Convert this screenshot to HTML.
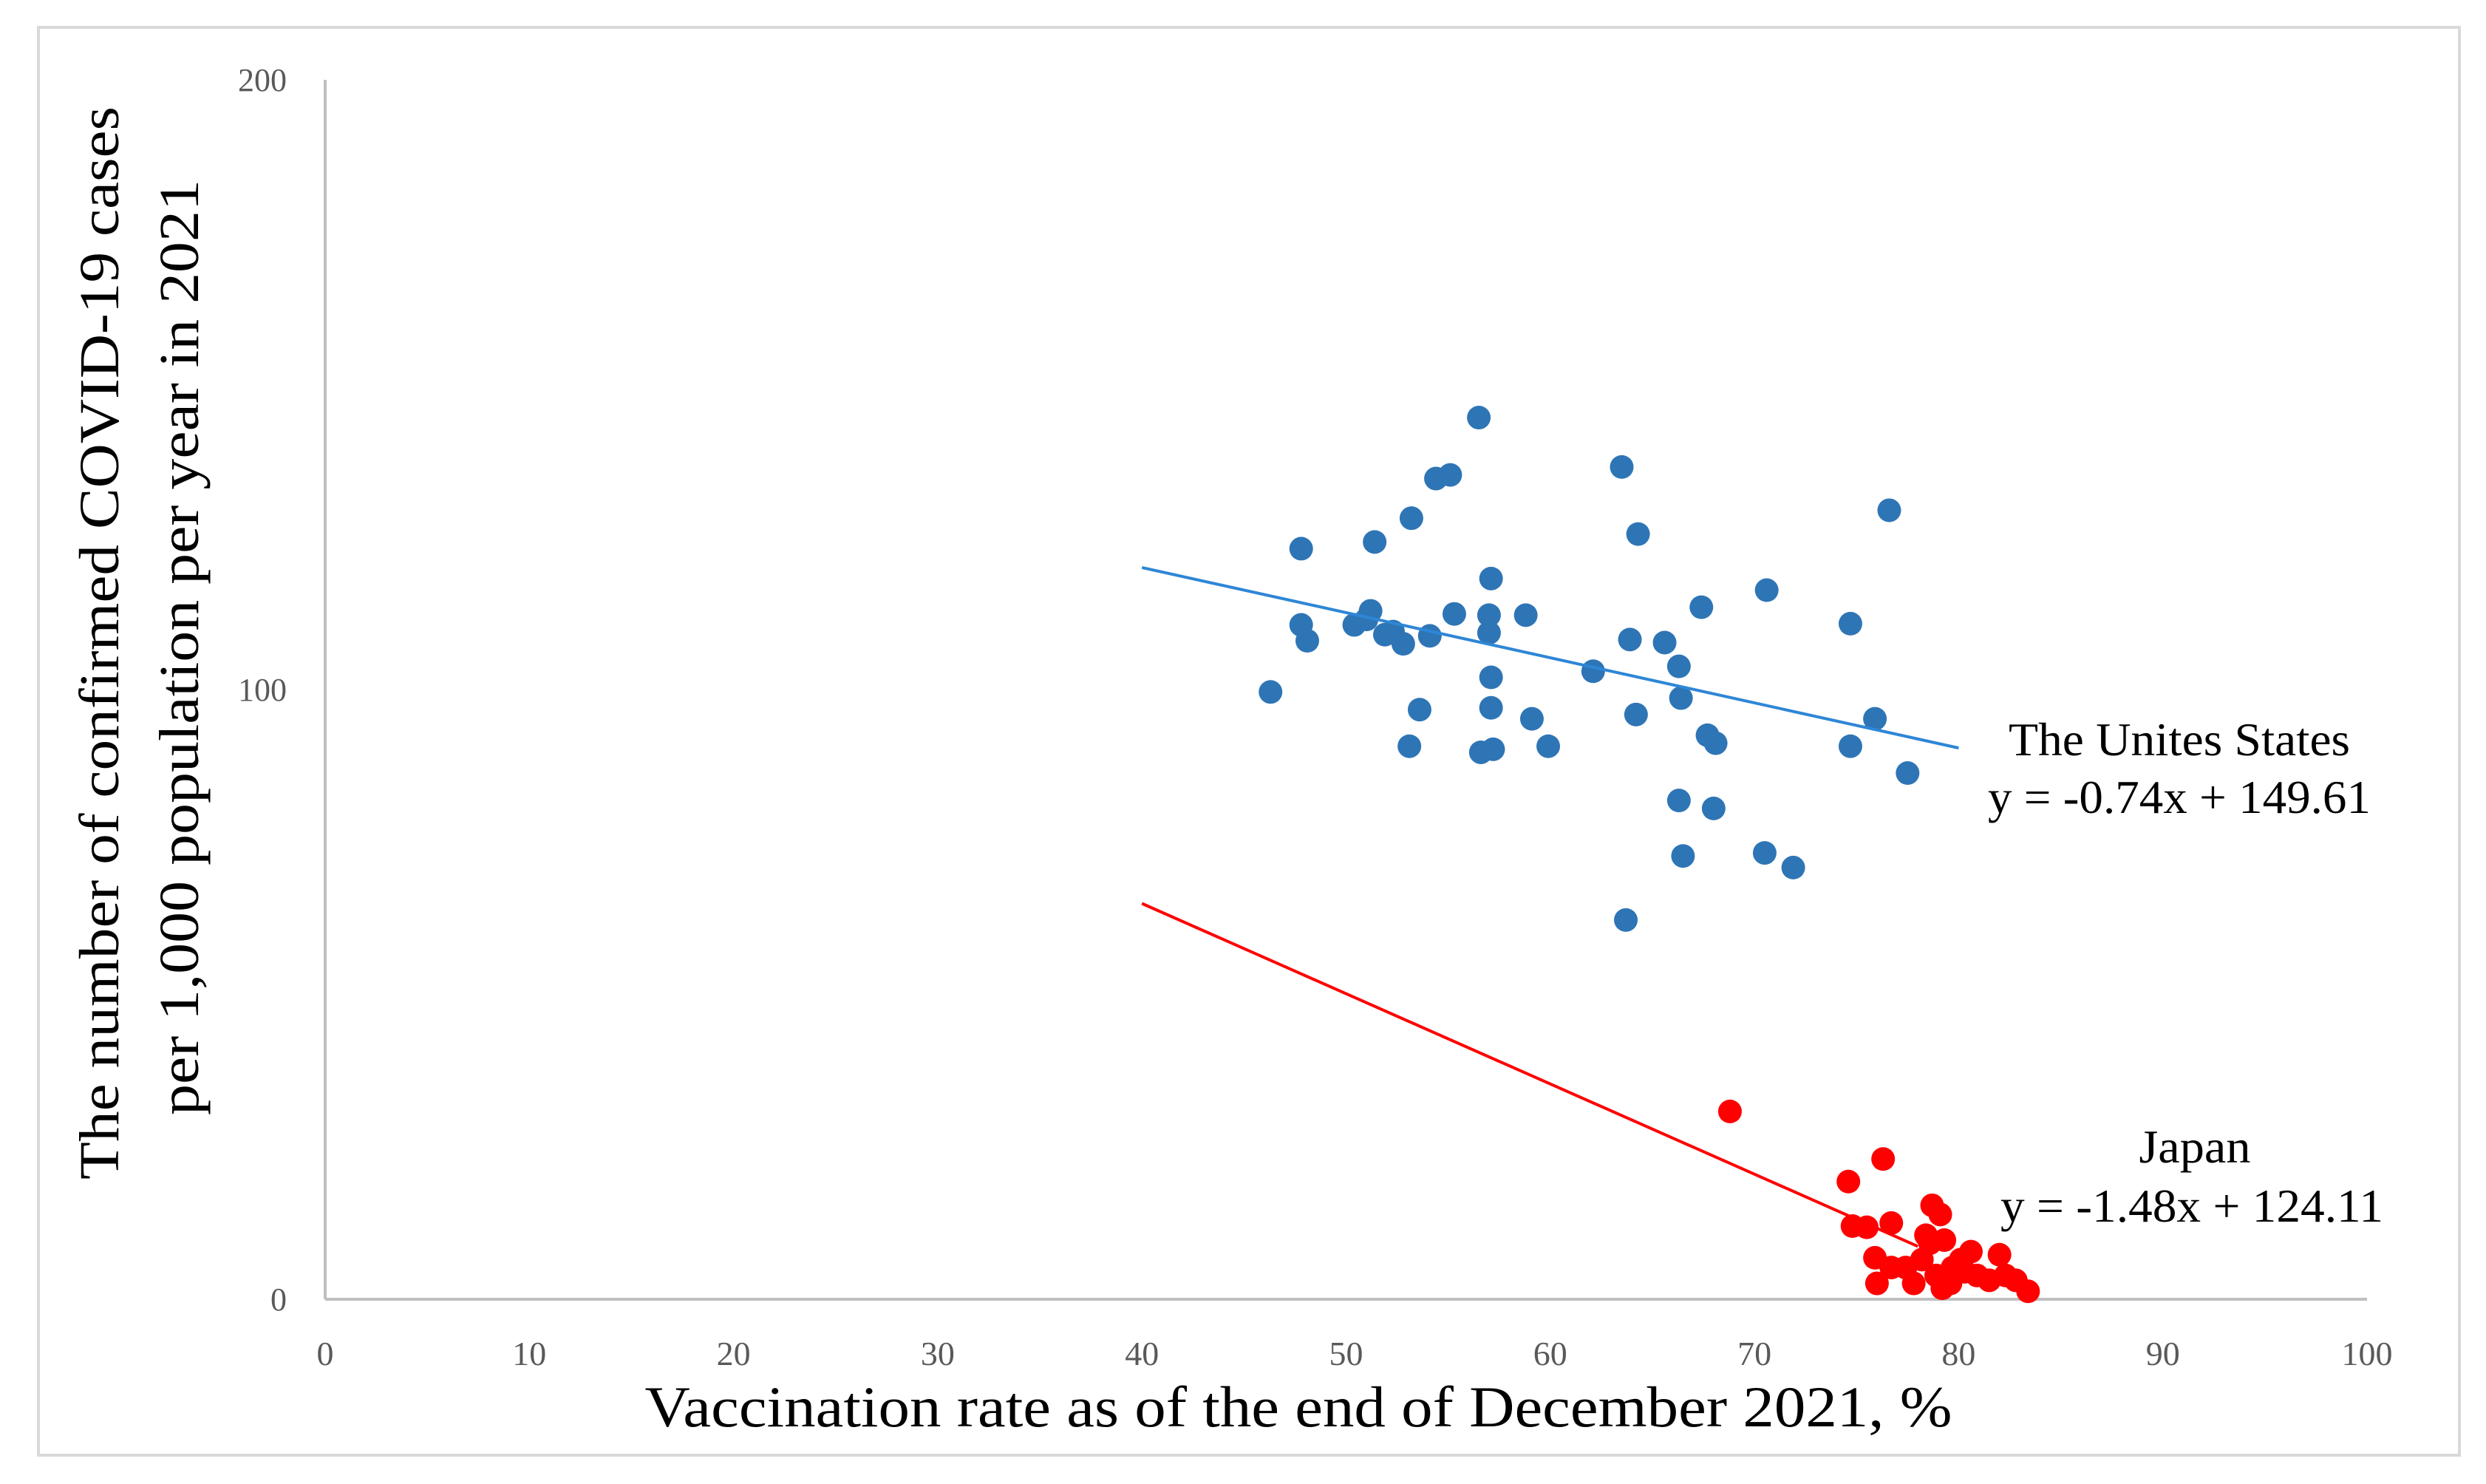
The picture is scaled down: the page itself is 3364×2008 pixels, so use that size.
<!DOCTYPE html>
<html><head><meta charset="utf-8"><style>
html,body{margin:0;padding:0;background:#fff;}
svg{display:block;}
text{font-family:"Liberation Serif",serif;}
</style></head><body>
<svg id="chart" width="3364" height="2008" viewBox="0 0 3364 2008">
<rect x="52" y="37" width="3276" height="1932" fill="#fff" stroke="#d9d9d9" stroke-width="4"/>
<g id="plot"></g>
<text x="134" y="870" font-size="76" text-anchor="middle" textLength="1452" lengthAdjust="spacingAndGlyphs" transform="rotate(-90 134 870)" dy="26">The number of confirmed COVID-19 cases</text>
<text x="242" y="876" font-size="76" text-anchor="middle" textLength="1266" lengthAdjust="spacingAndGlyphs" transform="rotate(-90 242 876)" dy="26">per 1,000 population per year in 2021</text>
<text x="1757" y="1930" font-size="78" text-anchor="middle" textLength="1769" lengthAdjust="spacingAndGlyphs">Vaccination rate as of the end of December 2021, %</text>
<text x="2949" y="1022" font-size="64" text-anchor="middle" textLength="462" lengthAdjust="spacingAndGlyphs">The Unites  States</text>
<text x="2949" y="1100" font-size="64" text-anchor="middle" textLength="518" lengthAdjust="spacingAndGlyphs">y = -0.74x + 149.61</text>
<text x="2970" y="1573" font-size="64" text-anchor="middle" textLength="151" lengthAdjust="spacingAndGlyphs">Japan</text>
<text x="2966" y="1653" font-size="64" text-anchor="middle" textLength="518" lengthAdjust="spacingAndGlyphs">y = -1.48x + 124.11</text>
</svg>
<script>
const xTicks=[0,10,20,30,40,50,60,70,80,90,100];
const yTicks=[0,100,200];
const usX=[47.8,47.8,48.1,46.3,50.4,51.2,51.4,51.9,52.8,53.2,53.1,53.6,54.1,54.4,55.1,55.3,56.5,56.6,57.0,57.0,57.1,57.1,57.1,57.2,58.8,59.1,59.9,62.1,63.5,63.7,63.9,64.2,64.3,65.6,66.3,66.3,66.4,66.5,67.4,67.7,68.1,68.0,70.6,70.5,71.9,74.7,74.7,75.9,76.6,77.5,51.0,52.3];
const usY=[123.1,110.6,108.0,99.6,110.6,112.9,124.2,109.0,107.5,128.1,90.7,96.7,108.8,134.6,135.2,112.4,144.6,89.7,112.2,109.3,97.0,102.0,118.2,90.2,112.2,95.2,90.7,103.0,136.5,62.2,108.2,95.9,125.5,107.7,103.8,81.8,98.6,72.7,113.5,92.5,91.2,80.5,116.3,73.2,70.8,110.8,90.7,95.2,129.4,86.3,111.5,109.5];
const jpX=[68.8,76.3,74.6,74.8,75.5,76.7,78.7,79.1,75.9,76.0,77.4,78.2,78.6,79.3,78.9,79.2,79.7,80.1,80.6,80.9,81.5,82.0,82.3,82.8,83.4,77.8,79.6,76.7,78.4,80.3];
const jpY=[30.8,23.0,19.3,12.0,11.8,12.5,15.4,13.9,6.8,2.6,5.2,6.5,9.2,9.7,3.9,1.8,5.2,6.5,7.8,3.9,3.1,7.3,3.9,3.1,1.3,2.6,2.6,5.2,10.5,4.5];
const usFit=[-0.74,149.61,40,80];
const jpFit=[-1.48,124.11,40,78];
const L=440,R=3203,T=108,B=1758;
const sx=v=>L+(v-0)/(100-0)*(R-L);
const sy=v=>B-(v-0)/(200-0)*(B-T);
const NS='http://www.w3.org/2000/svg';
const g=document.getElementById('plot');
function mk(tag,attrs){const e=document.createElementNS(NS,tag);for(const k in attrs)e.setAttribute(k,attrs[k]);g.appendChild(e);return e;}
let a=mk('line',{x1:L,y1:T,x2:L,y2:B,stroke:'#bfbfbf','stroke-width':4});


a=mk('line',{x1:L,y1:B,x2:R,y2:B,stroke:'#bfbfbf','stroke-width':4});


xTicks.forEach(t=>{const e=mk('text',{x:sx(t),y:1847,'font-size':46,'text-anchor':'middle',fill:'#595959'});e.textContent=t;

});
yTicks.forEach(t=>{const e=mk('text',{x:388,y:sy(t)+15,'font-size':44,'text-anchor':'end',fill:'#595959'});e.textContent=t;

});
function fit(f,col,name){const e=mk('line',{x1:sx(f[2]),y1:sy(f[0]*f[2]+f[1]),x2:sx(f[3]),y2:sy(f[0]*f[3]+f[1]),stroke:col,'stroke-width':4});

}
usX.forEach((x,i)=>{const c=mk('circle',{cx:sx(x),cy:sy(usY[i]),r:16,fill:'#2e75b6'});

});
fit(usFit,'#2e86d6','us-trendline');
fit(jpFit,'#ff0000','japan-trendline');
jpX.forEach((x,i)=>{const c=mk('circle',{cx:sx(x),cy:sy(jpY[i]),r:16,fill:'#ff0000'});

});
</script>
</body></html>
